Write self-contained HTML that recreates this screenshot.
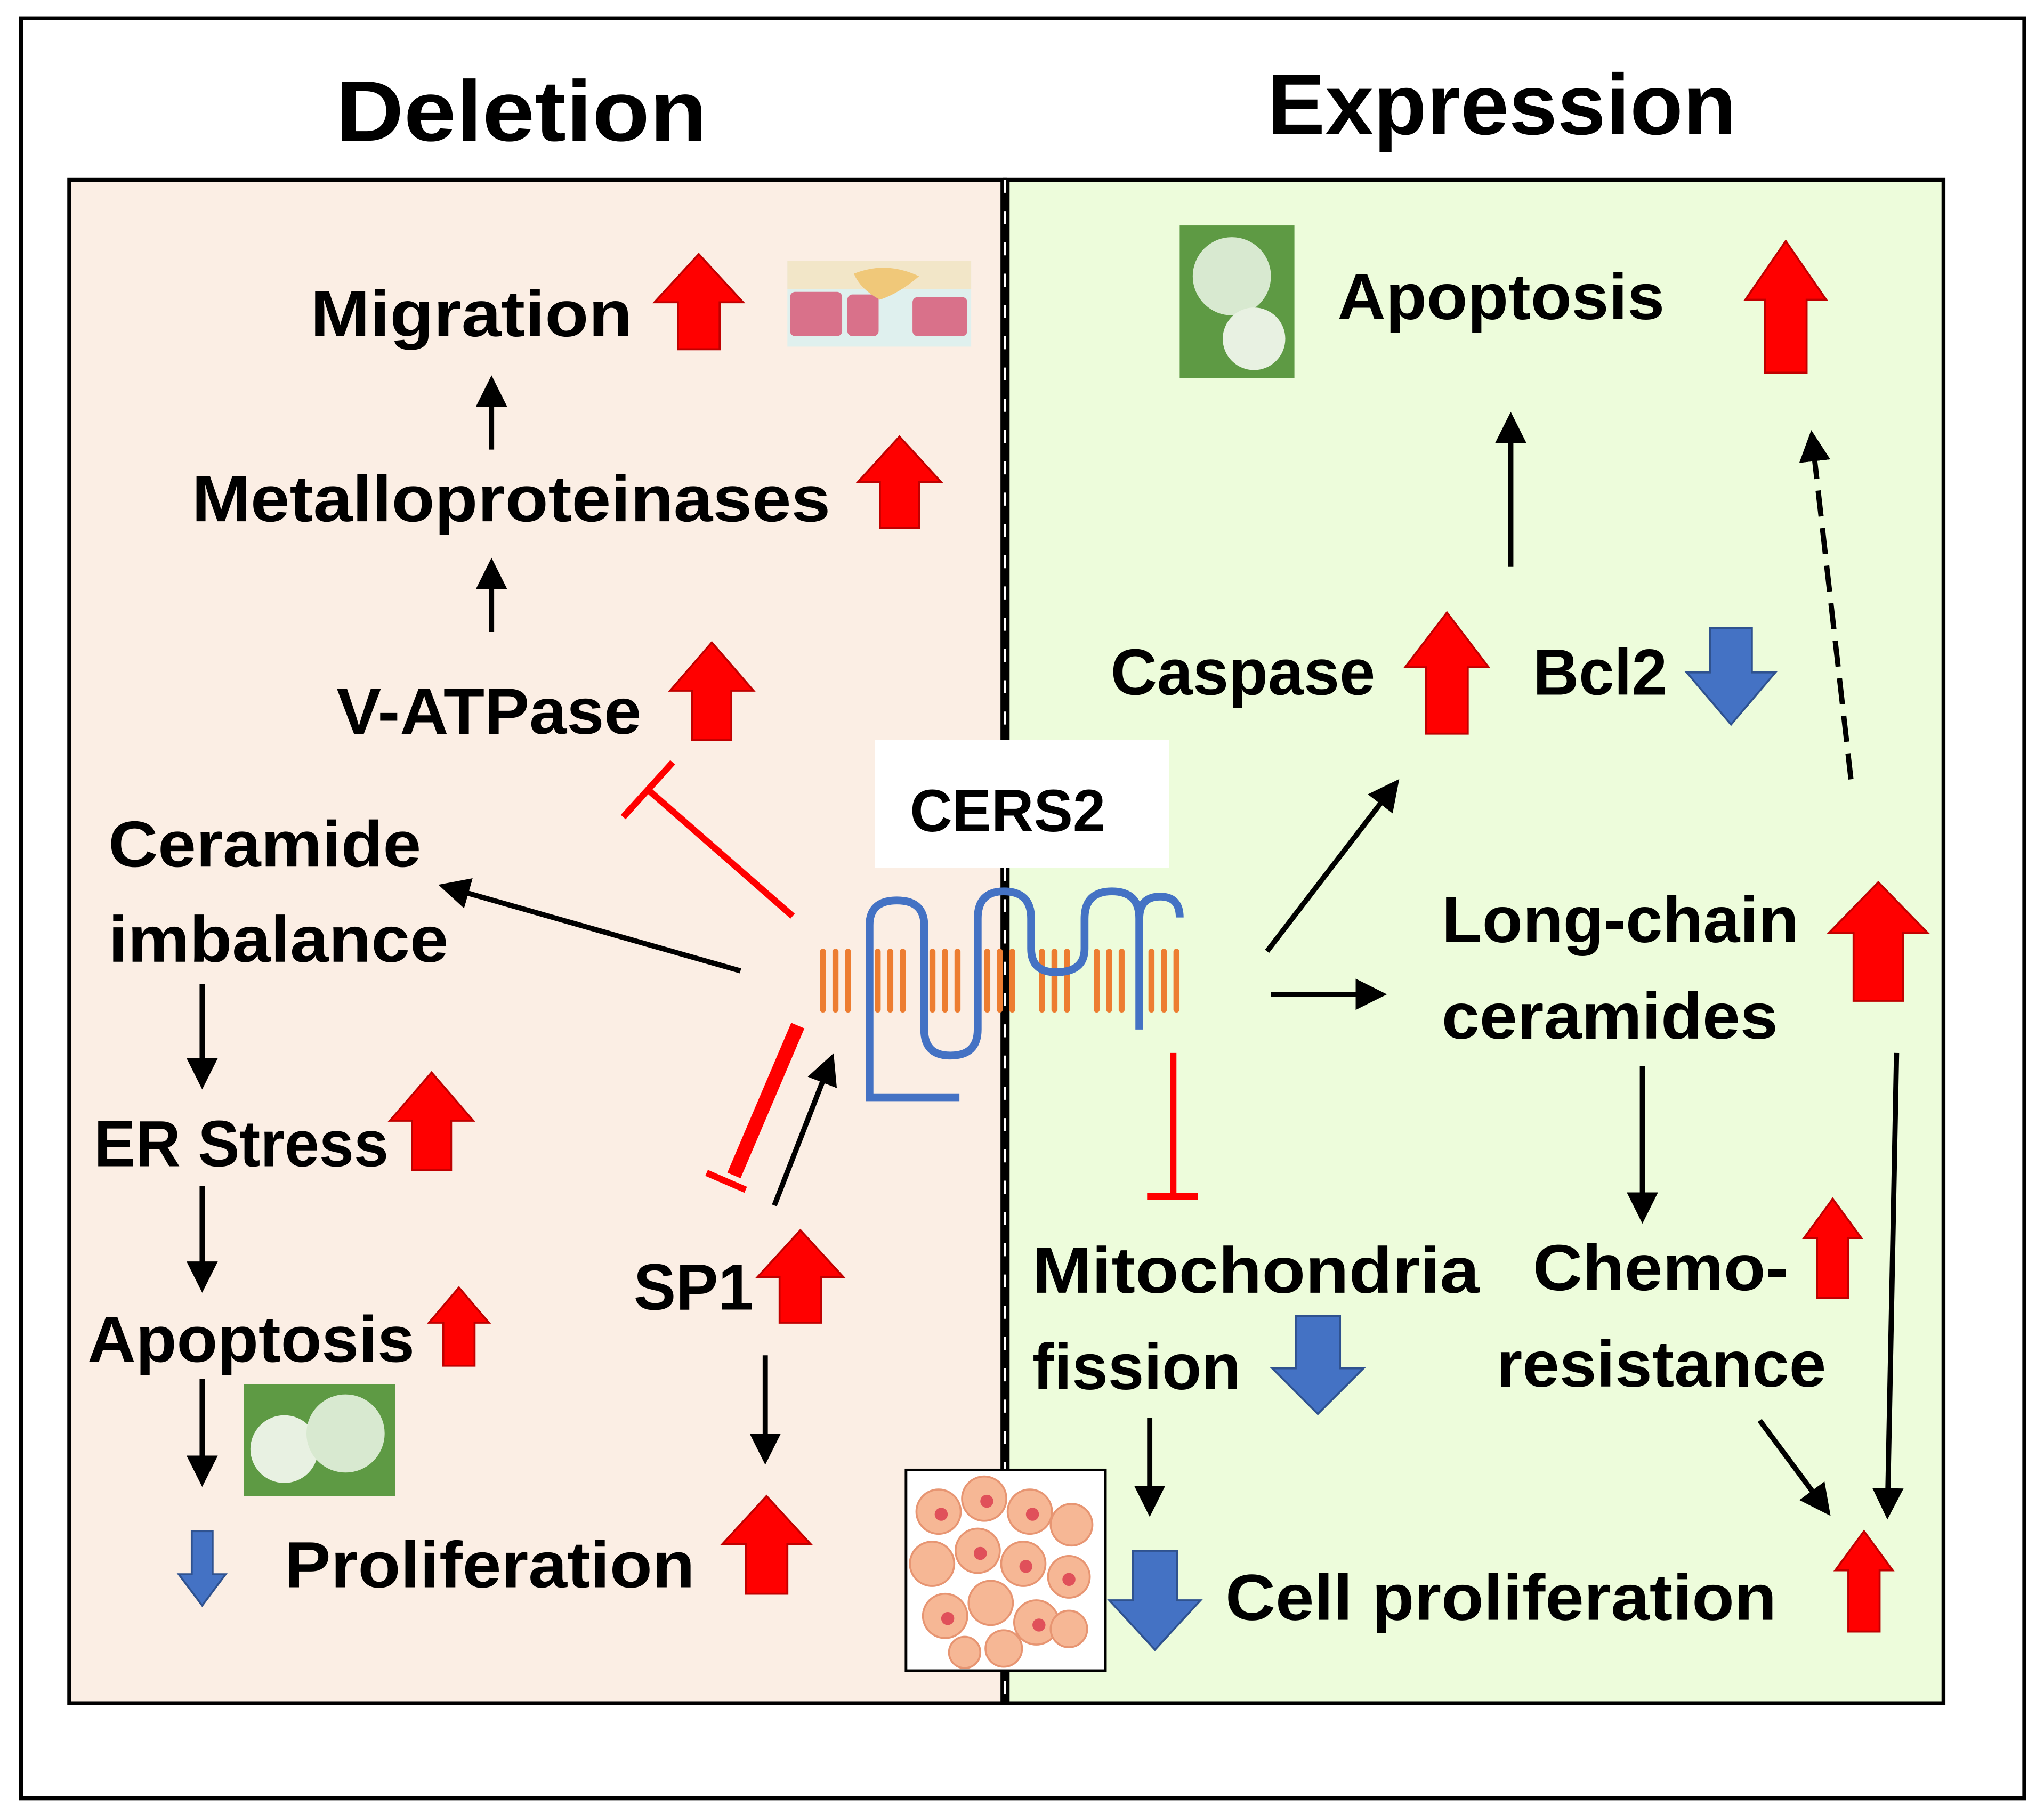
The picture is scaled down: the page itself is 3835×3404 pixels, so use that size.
<!DOCTYPE html>
<html><head><meta charset="utf-8"><style>html,body{margin:0;padding:0;background:#fff}svg{display:block}</style></head>
<body>
<svg width="3835" height="3404" viewBox="0 0 1568 1392" xmlns="http://www.w3.org/2000/svg">
<defs>
<marker id="ah" markerWidth="6" markerHeight="6" refX="5" refY="3" orient="auto" markerUnits="strokeWidth"><path d="M0,0 L6,3 L0,6 Z" fill="#000"/></marker>
<pattern id="lip" x="629" y="728" width="42" height="50" patternUnits="userSpaceOnUse">
<rect x="0" y="0" width="4.6" height="49" rx="2.3" fill="#ed7d31"/><rect x="9.6" y="0" width="4.6" height="49" rx="2.3" fill="#ed7d31"/><rect x="19.2" y="0" width="4.6" height="49" rx="2.3" fill="#ed7d31"/>
</pattern>
</defs>
<rect x="0" y="0" width="1568" height="1392" fill="#fff"/>
<rect x="16" y="14" width="1537" height="1366" fill="#fff" stroke="#000" stroke-width="3"/>
<g font-family="Liberation Sans, sans-serif" font-weight="bold" fill="#000">
<text x="400" y="108" font-size="66" text-anchor="middle" textLength="285" lengthAdjust="spacingAndGlyphs">Deletion</text>
<text x="1152" y="103" font-size="66" text-anchor="middle" textLength="360" lengthAdjust="spacingAndGlyphs">Expression</text>
</g>
<rect x="53" y="138" width="718" height="1169" fill="#fbeee4" stroke="#000" stroke-width="3"/>
<rect x="771" y="138" width="720" height="1169" fill="#edfcdb" stroke="#000" stroke-width="3"/>
<line x1="771" y1="138" x2="771" y2="1307" stroke="#000" stroke-width="7"/>
<line x1="771" y1="138" x2="771" y2="1307" stroke="#fff" stroke-width="1.5" stroke-dasharray="10 14"/>

<!-- membrane -->
<rect x="629" y="728" width="285" height="50" fill="url(#lip)"/>
<path d="M736,842 L667,842 L667,710 Q667,691 688,691 Q709,691 709,710 L709,790 Q709,810 729,810 Q750,810 750,790 L750,705 Q750,684 770,684 Q791,684 791,705 L791,728 Q791,746 810,746 Q832,746 832,728 L832,705 Q832,684 853,684 Q874,684 874,705 L874,790 M874,705 Q874,688 890,688 Q905,688 905,704" fill="none" stroke="#4472c4" stroke-width="6"/>

<rect x="671" y="568" width="226" height="98" fill="#fff"/>
<text x="773" y="638" font-family="Liberation Sans, sans-serif" font-weight="bold" font-size="46" text-anchor="middle" textLength="150" lengthAdjust="spacingAndGlyphs">CERS2</text>

<!-- images -->
<rect x="604" y="200" width="141" height="66" fill="#dff0ee"/>
<rect x="604" y="200" width="141" height="22" fill="#f2e6c8"/>
<rect x="606" y="224" width="40" height="34" rx="4" fill="#d9718a"/><rect x="650" y="226" width="24" height="32" rx="4" fill="#d9718a"/><rect x="700" y="228" width="42" height="30" rx="4" fill="#d9718a"/>
<path d="M655,210 Q680,200 705,212 Q690,225 675,230 Q660,222 655,210Z" fill="#f0c879"/>
<rect x="187" y="1062" width="116" height="86" fill="#5e9a44"/>
<circle cx="218" cy="1112" r="26" fill="#e8f1e2"/><circle cx="265" cy="1100" r="30" fill="#d8e9d0"/>
<rect x="905" y="173" width="88" height="117" fill="#5e9a44"/>
<circle cx="945" cy="212" r="30" fill="#d8e9d0"/><circle cx="962" cy="260" r="24" fill="#e8f1e2"/>
<rect x="695" y="1128" width="153" height="154" fill="#fff" stroke="#000" stroke-width="2"/>
<g fill="#f6b795" stroke="#e79572" stroke-width="1.5">
<circle cx="720" cy="1160" r="17"/><circle cx="755" cy="1150" r="17"/><circle cx="790" cy="1160" r="17"/><circle cx="822" cy="1170" r="16"/>
<circle cx="715" cy="1200" r="17"/><circle cx="750" cy="1190" r="17"/><circle cx="785" cy="1200" r="17"/><circle cx="820" cy="1210" r="16"/>
<circle cx="725" cy="1240" r="17"/><circle cx="760" cy="1230" r="17"/><circle cx="795" cy="1245" r="17"/><circle cx="770" cy="1265" r="14"/><circle cx="740" cy="1268" r="12"/><circle cx="820" cy="1250" r="14"/>
</g>
<g fill="#e0505a"><circle cx="722" cy="1162" r="5"/><circle cx="757" cy="1152" r="5"/><circle cx="792" cy="1162" r="5"/><circle cx="752" cy="1192" r="5"/><circle cx="787" cy="1202" r="5"/><circle cx="727" cy="1242" r="5"/><circle cx="797" cy="1247" r="5"/><circle cx="820" cy="1212" r="5"/></g>

<!-- up arrows red -->
<g fill="#ff0000" stroke="#c00000" stroke-width="1.5">
<path d="M536,195 L570,232 L552,232 L552,268 L520,268 L520,232 L502,232Z"/>
<path d="M690,335 L722,370 L705,370 L705,405 L675,405 L675,370 L658,370Z"/>
<path d="M546,493 L578,530 L561,530 L561,568 L531,568 L531,530 L514,530Z"/>
<path d="M331,823 L363,860 L346,860 L346,898 L316,898 L316,860 L299,860Z"/>
<path d="M352,988 L375,1015 L364,1015 L364,1048 L340,1048 L340,1015 L329,1015Z"/>
<path d="M614,944 L647,980 L630,980 L630,1015 L598,1015 L598,980 L581,980Z"/>
<path d="M588,1148 L622,1185 L604,1185 L604,1223 L572,1223 L572,1185 L554,1185Z"/>
<path d="M1370,185 L1401,230 L1386,230 L1386,286 L1354,286 L1354,230 L1339,230Z"/>
<path d="M1110,470 L1142,512 L1126,512 L1126,563 L1094,563 L1094,512 L1078,512Z"/>
<path d="M1441,677 L1479,716 L1460,716 L1460,768 L1422,768 L1422,716 L1403,716Z"/>
<path d="M1406,920 L1428,950 L1418,950 L1418,996 L1394,996 L1394,950 L1384,950Z"/>
<path d="M1430,1175 L1452,1205 L1442,1205 L1442,1252 L1418,1252 L1418,1205 L1408,1205Z"/>
</g>
<!-- down arrows blue -->
<g fill="#4472c4" stroke="#2f528f" stroke-width="1.5">
<path d="M1328,556 L1362,516 L1344,516 L1344,482 L1312,482 L1312,516 L1294,516Z"/>
<path d="M1011,1085 L1046,1050 L1028,1050 L1028,1010 L994,1010 L994,1050 L976,1050Z"/>
<path d="M886,1266 L921,1228 L903,1228 L903,1190 L869,1190 L869,1228 L851,1228Z"/>
<path d="M155,1232 L173,1208 L163,1208 L163,1175 L147,1175 L147,1208 L137,1208Z"/>
</g>

<!-- black arrows -->
<g stroke="#000" stroke-width="4" fill="none" marker-end="url(#ah)">
<line x1="377" y1="345" x2="377" y2="292"/>
<line x1="377" y1="485" x2="377" y2="432"/>
<line x1="155" y1="755" x2="155" y2="832"/>
<line x1="155" y1="910" x2="155" y2="988"/>
<line x1="155" y1="1058" x2="155" y2="1137"/>
<line x1="587" y1="1040" x2="587" y2="1120"/>
<line x1="882" y1="1088" x2="882" y2="1160"/>
<line x1="1159" y1="435" x2="1159" y2="320"/>
<line x1="1420" y1="598" x2="1390" y2="334" stroke-dasharray="20 9"/>
<line x1="1260" y1="818" x2="1260" y2="935"/>
<line x1="1455" y1="808" x2="1448" y2="1162"/>
<line x1="1350" y1="1090" x2="1402" y2="1160"/>
<line x1="972" y1="730" x2="1071" y2="601"/>
<line x1="975" y1="763" x2="1060" y2="763"/>
<line x1="568" y1="745" x2="340" y2="680"/>
<line x1="594" y1="925" x2="638" y2="812"/>
</g>
<!-- inhibitions -->
<g stroke="#ff0000" fill="none">
<line x1="608" y1="703" x2="497" y2="606" stroke-width="5"/>
<line x1="478" y1="627" x2="516" y2="585" stroke-width="5"/>
<line x1="612" y1="787" x2="563" y2="902" stroke-width="11"/>
<line x1="542" y1="900" x2="572" y2="913" stroke-width="5"/>
<line x1="900" y1="808" x2="900" y2="918" stroke-width="5"/>
<line x1="880" y1="918" x2="919" y2="918" stroke-width="5"/>
</g>

<!-- labels -->
<g font-family="Liberation Sans, sans-serif" font-weight="bold" font-size="50" fill="#000">
<text x="238" y="258" textLength="247" lengthAdjust="spacingAndGlyphs">Migration</text>
<text x="147" y="400" textLength="490" lengthAdjust="spacingAndGlyphs">Metalloproteinases</text>
<text x="258" y="563" textLength="234" lengthAdjust="spacingAndGlyphs">V-ATPase</text>
<text x="83" y="665" textLength="240" lengthAdjust="spacingAndGlyphs">Ceramide</text>
<text x="83" y="738" textLength="261" lengthAdjust="spacingAndGlyphs">imbalance</text>
<text x="72" y="895" textLength="226" lengthAdjust="spacingAndGlyphs">ER Stress</text>
<text x="67" y="1045" textLength="251" lengthAdjust="spacingAndGlyphs">Apoptosis</text>
<text x="486" y="1005" textLength="92" lengthAdjust="spacingAndGlyphs">SP1</text>
<text x="218" y="1218" textLength="315" lengthAdjust="spacingAndGlyphs">Proliferation</text>
<text x="1026" y="245" textLength="251" lengthAdjust="spacingAndGlyphs">Apoptosis</text>
<text x="852" y="533" textLength="203" lengthAdjust="spacingAndGlyphs">Caspase</text>
<text x="1176" y="533" textLength="103" lengthAdjust="spacingAndGlyphs">Bcl2</text>
<text x="1106" y="723" textLength="274" lengthAdjust="spacingAndGlyphs">Long-chain</text>
<text x="1106" y="797" textLength="258" lengthAdjust="spacingAndGlyphs">ceramides</text>
<text x="792" y="992" textLength="343" lengthAdjust="spacingAndGlyphs">Mitochondria</text>
<text x="792" y="1066" textLength="160" lengthAdjust="spacingAndGlyphs">fission</text>
<text x="1176" y="990" textLength="196" lengthAdjust="spacingAndGlyphs">Chemo-</text>
<text x="1148" y="1064" textLength="253" lengthAdjust="spacingAndGlyphs">resistance</text>
<text x="940" y="1243" textLength="423" lengthAdjust="spacingAndGlyphs">Cell proliferation</text>
</g>
</svg>
</body></html>
